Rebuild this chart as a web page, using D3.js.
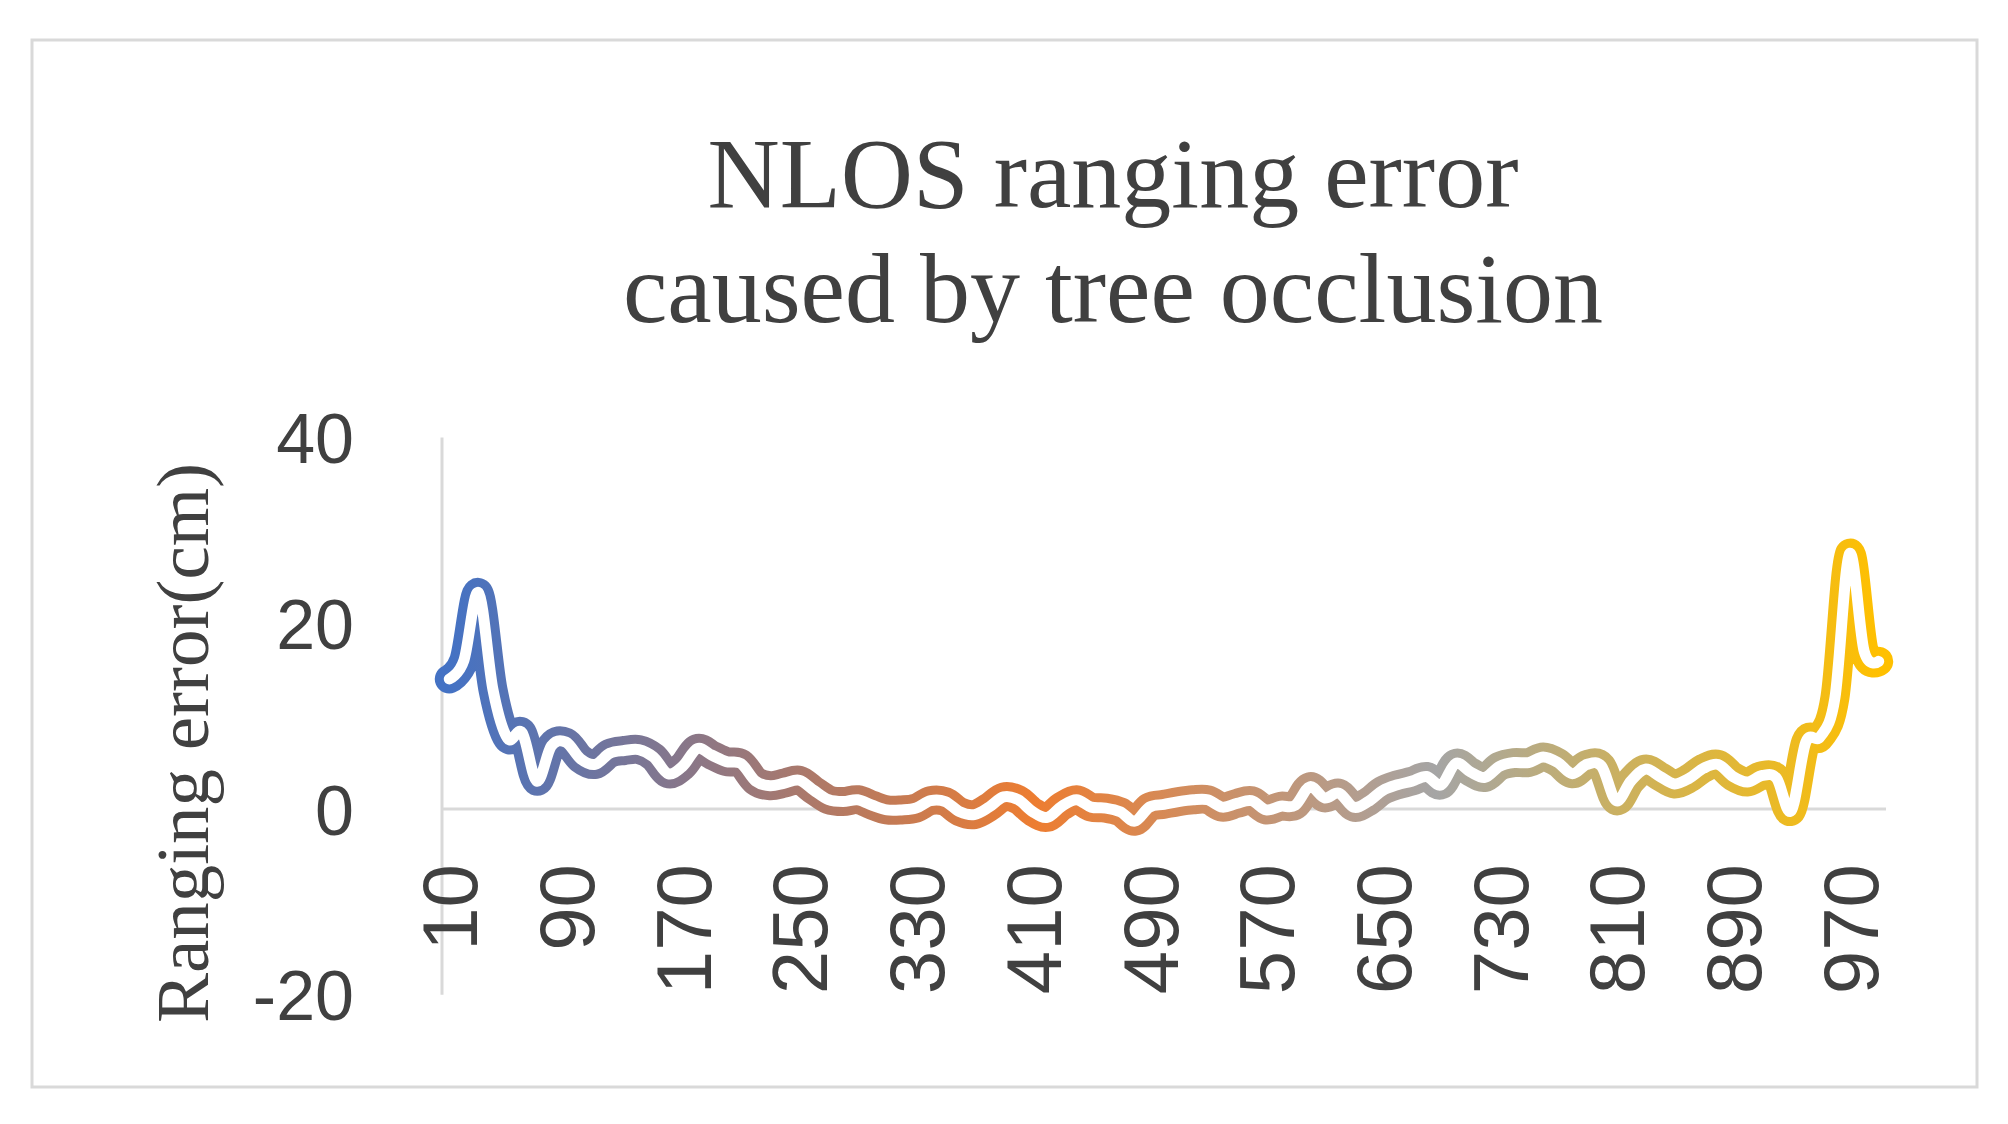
<!DOCTYPE html>
<html>
<head>
<meta charset="utf-8">
<script src="https://cdn.jsdelivr.net/npm/d3@7"></script>
<style>
html,body{margin:0;padding:0;background:#fff;}
svg{display:block;}
</style>
</head>
<body>
<svg id="chart" width="2008" height="1124"></svg>
<script>
// ---------- data ----------
const categories = [10,20,30,40,50,60,70,80,90,100,110,120,130,140,150,160,170,180,190,200,
  210,220,230,240,250,260,270,280,290,300,310,320,330,340,350,360,370,380,390,400,
  410,420,430,440,450,460,470,480,490,500,510,520,530,540,550,560,570,580,590,600,
  610,620,630,640,650,660,670,680,690,700,710,720,730,740,750,760,770,780,790,800,
  810,820,830,840,850,860,870,880,890,900,910,920,930,940,950,960,970,980,990];
const rangingError = [14.0,16.0,23.3,12.8,7.6,8.2,3.0,6.8,7.2,5.4,
  4.8,6.0,6.3,6.4,5.6,3.8,4.6,6.5,5.8,5.1,
  4.9,3.0,2.5,2.8,3.1,2.0,1.0,0.8,1.0,0.4,
  -0.1,-0.1,0.1,0.9,0.8,-0.3,-0.6,0.2,1.3,1.0,
  -0.3,-0.9,0.3,1.0,0.2,0.1,-0.3,-1.3,0.2,0.5,
  0.8,1.0,1.0,0.2,0.6,0.9,-0.1,0.3,0.4,2.4,
  1.2,1.7,0.2,0.8,2.0,2.6,3.0,3.5,2.6,4.9,
  4.0,3.4,4.6,5.0,5.0,5.6,5.0,3.8,4.8,4.6,
  0.9,3.0,4.3,3.5,2.7,3.3,4.4,4.8,3.5,2.9,
  3.6,3.3,-0.2,7.2,7.8,12.0,27.5,17.0,15.9];
const xTickLabels = [10,90,170,250,330,410,490,570,650,730,810,890,970];
const yTickValues = [-20,0,20,40];
const titleLines = ["NLOS ranging error","caused by tree occlusion"];
const yAxisTitle = "Ranging error(cm)";
const gradientColors = ["#4472C4","#ED7D31","#A5A5A5","#FFC000"];
const gradientOffsets = [0,0.41,0.69,1];

// ---------- layout ----------
const svg = d3.select("#chart");
const W = 2008, H = 1124;
const plot = {left:442, right:1886, top:437.6, bottom:994.7};
const textColor = "#404040";
const gridColor = "#d9d9d9";

svg.append("rect").attr("width",W).attr("height",H).attr("fill","#fff");
svg.append("rect")
  .attr("x",32).attr("y",40).attr("width",1945).attr("height",1047)
  .attr("fill","#fff").attr("stroke",gridColor).attr("stroke-width",3);

const x = d3.scaleBand().domain(categories).range([plot.left, plot.right]).padding(0);
const cx = c => x(c) + x.bandwidth()/2;
const y = d3.scaleLinear().domain([-20,40]).range([plot.bottom, plot.top]);

// title
const title = svg.append("text")
  .attr("text-anchor","middle")
  .attr("font-family","'Liberation Serif','Times New Roman',serif")
  .attr("font-size",100)
  .attr("fill",textColor);
titleLines.forEach((t,i)=>{
  title.append("tspan").attr("x",1113).attr("y",207 + i*115).text(t);
});

// y axis title
svg.append("text")
  .attr("transform","translate(208,743) rotate(-90)")
  .attr("text-anchor","middle")
  .attr("font-family","'Liberation Serif','Times New Roman',serif")
  .attr("font-size",75)
  .attr("fill",textColor)
  .text(yAxisTitle);

// value axis line
svg.append("line")
  .attr("x1",plot.left).attr("x2",plot.left)
  .attr("y1",y(40)).attr("y2",y(-20))
  .attr("stroke",gridColor).attr("stroke-width",3);

// y axis ticks
const yAxis = d3.axisLeft(y).tickValues(yTickValues).tickSize(0).tickPadding(88)
  .tickFormat(d => String(d));
const gy = svg.append("g").attr("transform",`translate(${plot.left},0)`).call(yAxis);
gy.select(".domain").remove();
gy.selectAll("text")
  .attr("font-family","'Liberation Sans',Arial,sans-serif")
  .attr("font-size",70)
  .attr("fill",textColor)
  .attr("dy","0.36em");

// category axis at zero
const xAxis = d3.axisBottom(x).tickValues(xTickLabels).tickSize(0).tickFormat(d=>String(d));
const gx = svg.append("g").attr("transform",`translate(0,${y(0)})`).call(xAxis);
gx.select(".domain")
  .attr("stroke",gridColor).attr("stroke-width",3)
  .attr("d",`M${plot.left},0H${plot.right}`);
gx.selectAll("text")
  .attr("transform","rotate(-90)")
  .attr("x",-55).attr("y",0).attr("dy","0.36em")
  .attr("text-anchor","end")
  .attr("font-family","'Liberation Sans',Arial,sans-serif")
  .attr("font-size",78)
  .attr("fill",textColor);

// gradient
const defs = svg.append("defs");
const grad = defs.append("linearGradient").attr("id","lineGrad")
  .attr("gradientUnits","userSpaceOnUse")
  .attr("x1",cx(categories[0])).attr("x2",cx(categories[categories.length-1]))
  .attr("y1",0).attr("y2",0);
gradientColors.forEach((c,i)=>{
  grad.append("stop").attr("offset",gradientOffsets[i]).attr("stop-color",c);
});

const data = categories.map((c,i)=>({c, v: rangingError[i]}));
const line = d3.line().x(d=>cx(d.c)).y(d=>y(d.v)).curve(d3.curveCardinal.tension(0));

svg.append("path").datum(data)
  .attr("d",line).attr("fill","none")
  .attr("stroke","url(#lineGrad)").attr("stroke-width",29)
  .attr("stroke-linecap","round").attr("stroke-linejoin","round");
svg.append("path").datum(data)
  .attr("d",line).attr("fill","none")
  .attr("stroke","#fff").attr("stroke-width",11)
  .attr("stroke-linecap","round").attr("stroke-linejoin","round");
</script>
</body>
</html>
